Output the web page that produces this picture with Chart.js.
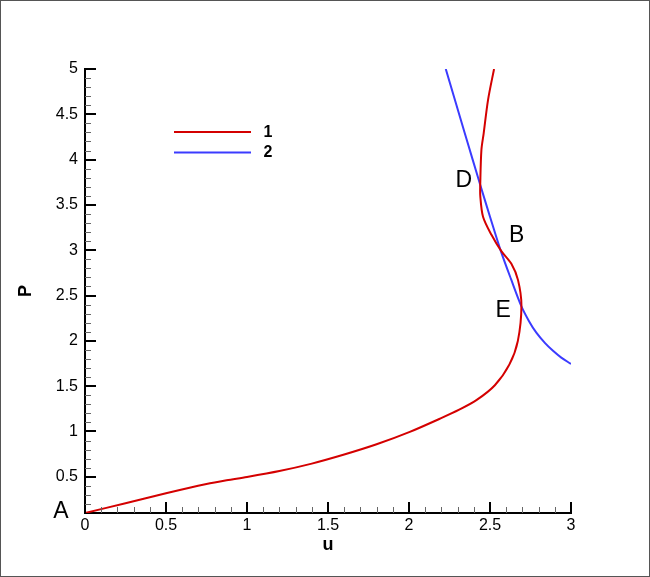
<!DOCTYPE html>
<html><head><meta charset="utf-8">
<script src="https://cdn.jsdelivr.net/npm/chart.js@4"></script>
<style>html,body{margin:0;padding:0;background:#fff}#wrap{width:650px;height:577px;position:relative}canvas{display:block}</style>
</head><body><div id="wrap"><canvas id="c" width="650" height="577"></canvas></div>
<script>
// ---- data ----
const curve1U = [0, 0.25, 0.5, 0.75, 0.874, 1.0, 1.2, 1.4, 1.6, 1.8, 2.005, 2.19, 2.31, 2.416, 2.53, 2.62, 2.672, 2.694, 2.673, 2.632, 2.57, 2.509, 2.457, 2.44, 2.44, 2.447, 2.461, 2.488, 2.525];
const curve1P = [0.1, 0.208, 0.318, 0.42, 0.461, 0.497, 0.563, 0.645, 0.745, 0.858, 0.995, 1.14, 1.24, 1.345, 1.51, 1.74, 2.0, 2.39, 2.67, 2.85, 2.99, 3.17, 3.37, 3.6, 3.74, 4.107, 4.29, 4.66, 5.0];
const curve2U = [2.227, 2.28, 2.343, 2.393, 2.44, 2.50, 2.567, 2.63, 2.694, 2.74, 2.786, 2.84, 2.889, 2.94, 3.0];
const curve2P = [5.0, 4.68, 4.3, 4.0, 3.72, 3.37, 2.99, 2.68, 2.38, 2.22, 2.09, 1.975, 1.89, 1.815, 1.745];
const seriesLabels = ['1', '2'];
const seriesColors = ['#d40000', '#3b3bff'];
const xTickValues = [0, 0.5, 1, 1.5, 2, 2.5, 3];
const yTickValues = [0.5, 1, 1.5, 2, 2.5, 3, 3.5, 4, 4.5, 5];
const xRange = [0, 3];
const yRange = [0.1, 5];
const xTitle = 'u';
const yTitle = 'P';
const pointNames = ['A', 'D', 'B', 'E'];
const pointNameU = [-0.148, 2.338, 2.665, 2.582];
const pointNameP = [0.124, 3.776, 3.171, 2.339];

Chart.defaults.font.family = '"Liberation Sans", Arial, sans-serif';
Chart.defaults.color = '#000';

const decorPlugin = {
  id: 'decor',
  afterDraw(chart) {
    const ctx = chart.ctx;
    const xs = chart.scales.x, ys = chart.scales.y;
    const x0 = xs.getPixelForValue(xRange[0]);
    const y0 = ys.getPixelForValue(yRange[0]);
    ctx.save();
    const isMajor = (v, arr) => arr.some(t => Math.abs(t - v) < 1e-6);
    ctx.lineCap = 'butt';
    for (let k = 1; k < 30; k++) {
      const v = k / 10;
      if (isMajor(v, xTickValues)) continue;
      const px = Math.round(xs.getPixelForValue(v)) + 0.5;
      ctx.strokeStyle = '#666'; ctx.lineWidth = 1;
      ctx.beginPath(); ctx.moveTo(px, y0); ctx.lineTo(px, y0 - 6); ctx.stroke();
    }
    xTickValues.forEach(v => {
      const px = Math.round(xs.getPixelForValue(v));
      ctx.strokeStyle = '#000'; ctx.lineWidth = 2;
      ctx.beginPath(); ctx.moveTo(px, y0); ctx.lineTo(px, y0 - 11); ctx.stroke();
    });
    for (let k = 2; k < 50; k++) {
      const v = k / 10;
      if (isMajor(v, yTickValues)) continue;
      const py = Math.round(ys.getPixelForValue(v)) + 0.5;
      ctx.strokeStyle = '#666'; ctx.lineWidth = 1;
      ctx.beginPath(); ctx.moveTo(x0, py); ctx.lineTo(x0 + 6, py); ctx.stroke();
    }
    yTickValues.forEach(v => {
      const py = Math.round(ys.getPixelForValue(v));
      ctx.strokeStyle = '#000'; ctx.lineWidth = 2;
      ctx.beginPath(); ctx.moveTo(x0, py); ctx.lineTo(x0 + 11, py); ctx.stroke();
    });
    // legend
    chart.data.datasets.forEach((ds, i) => {
      const ly = 132 + i * 20.5;
      ctx.strokeStyle = ds.borderColor; ctx.lineWidth = 2;
      ctx.beginPath(); ctx.moveTo(174, ly); ctx.lineTo(251, ly); ctx.stroke();
      ctx.fillStyle = '#000';
      ctx.font = 'bold 16px "Liberation Sans", Arial, sans-serif';
      ctx.textAlign = 'center'; ctx.textBaseline = 'middle';
      ctx.fillText(ds.label, 268, ly + 0.5);
    });
    // point names
    ctx.font = '23px "Liberation Sans", Arial, sans-serif';
    ctx.fillStyle = '#000';
    ctx.textAlign = 'center'; ctx.textBaseline = 'middle';
    pointNames.forEach((n, i) => {
      ctx.fillText(n, xs.getPixelForValue(pointNameU[i]), ys.getPixelForValue(pointNameP[i]) + 1);
    });
    // frame
    ctx.strokeStyle = '#555'; ctx.lineWidth = 1;
    ctx.strokeRect(0.5, 0.5, chart.width - 1, chart.height - 1);
    ctx.restore();
  }
};

new Chart(document.getElementById('c'), {
  type: 'scatter',
  data: {
    datasets: [
      { label: seriesLabels[0], data: curve1U.map((u, i) => ({x: u, y: curve1P[i]})), borderColor: seriesColors[0], backgroundColor: seriesColors[0] },
      { label: seriesLabels[1], data: curve2U.map((u, i) => ({x: u, y: curve2P[i]})), borderColor: seriesColors[1], backgroundColor: seriesColors[1] }
    ]
  },
  options: {
    responsive: false,
    animation: false,
    devicePixelRatio: 1,
    layout: { padding: { top: 69, right: 79, bottom: 0, left: 0 } },
    elements: { line: { borderWidth: 2, tension: 0.3, fill: false }, point: { radius: 0, hoverRadius: 0 } },
    datasets: { scatter: { showLine: true } },
    plugins: { legend: { display: false }, tooltip: { enabled: false } },
    scales: {
      x: {
        type: 'linear', min: xRange[0], max: xRange[1],
        afterBuildTicks: s => { s.ticks = xTickValues.map(v => ({value: v})); },
        afterFit: s => { s.height = 64; },
        grid: { display: false, drawTicks: false },
        border: { display: true, color: '#000', width: 2 },
        ticks: { padding: 3, font: { size: 16 }, color: '#000', maxRotation: 0, autoSkip: false, callback: v => String(v) },
        title: { display: true, text: xTitle, font: { size: 18, weight: 'bold' }, color: '#000', padding: { top: 0, bottom: 21 } }
      },
      y: {
        type: 'linear', min: yRange[0], max: yRange[1],
        afterBuildTicks: s => { s.ticks = yTickValues.map(v => ({value: v})); },
        afterFit: s => { s.width = 85; },
        grid: { display: false, drawTicks: false },
        border: { display: true, color: '#000', width: 2 },
        ticks: { padding: 7, font: { size: 16 }, color: '#000', autoSkip: false, callback: v => String(v) },
        title: { display: true, text: yTitle, font: { size: 18, weight: 'bold' }, color: '#000', padding: { top: 15, bottom: 0 } }
      }
    }
  },
  plugins: [decorPlugin]
});
</script>
</body></html>
